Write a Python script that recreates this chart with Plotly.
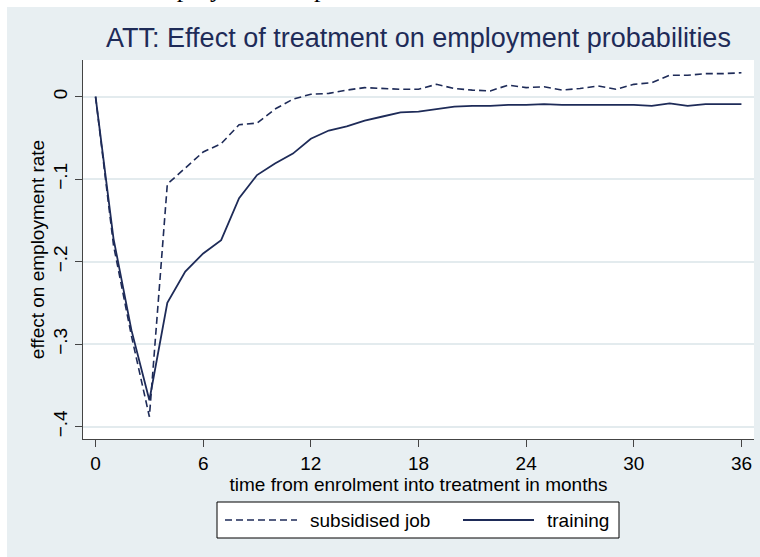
import plotly.graph_objects as go

# months since enrolment
months = list(range(37))

# effect on employment rate
subsidised_job = [0.000, -0.180, -0.290, -0.388, -0.106, -0.087, -0.067, -0.057, -0.034, -0.032,
                  -0.015, -0.003, 0.003, 0.004, 0.008, 0.011, 0.010, 0.009, 0.009, 0.015,
                  0.010, 0.008, 0.007, 0.014, 0.011, 0.012, 0.008, 0.010, 0.013, 0.009,
                  0.015, 0.017, 0.026, 0.026, 0.028, 0.028, 0.029]
training = [0.000, -0.172, -0.283, -0.368, -0.250, -0.212, -0.190, -0.174, -0.123, -0.095,
            -0.081, -0.069, -0.051, -0.041, -0.036, -0.029, -0.024, -0.019, -0.018, -0.015,
            -0.012, -0.011, -0.011, -0.010, -0.010, -0.009, -0.010, -0.010, -0.010, -0.010,
            -0.010, -0.011, -0.008, -0.011, -0.009, -0.009, -0.009]

x_ticks = [0, 6, 12, 18, 24, 30, 36]
y_ticks = [0, -0.1, -0.2, -0.3, -0.4]
y_ticktext = ["0", "\u2212.1", "\u2212.2", "\u2212.3", "\u2212.4"]

series_names = ["subsidised job", "training"]

FONT = "Liberation Sans, Arial, sans-serif"
NAVY = "#1e2b58"
BG = "#e8eff2"
GRID = "#e3ebee"
AXIS = "#444444"

W, H = 760, 557
L, R, T, B = 83, 6, 60, 118
pw, ph = W - L - R, H - T - B


def px(x):
    # pixel column -> paper x
    return (x - L) / pw


def py(y):
    # pixel row -> paper y
    return (H - B - y) / ph


fig = go.Figure()
fig.add_trace(go.Scatter(x=months, y=subsidised_job, mode="lines", name=series_names[0],
                         line=dict(color=NAVY, width=1.6, dash="7px,4px"), showlegend=False))
fig.add_trace(go.Scatter(x=months, y=training, mode="lines", name=series_names[1],
                         line=dict(color=NAVY, width=1.8), showlegend=False))

shapes = [
    # white strips above and left of the graph region (page around the figure)
    dict(type="rect", xref="paper", yref="paper", x0=px(-5), x1=px(W + 5), y0=py(7), y1=py(-5),
         fillcolor="white", line=dict(width=0), layer="above"),
    dict(type="rect", xref="paper", yref="paper", x0=px(-5), x1=px(7), y0=py(H + 5), y1=py(-5),
         fillcolor="white", line=dict(width=0), layer="above"),
    # legend box
    dict(type="rect", xref="paper", yref="paper", x0=px(217), x1=px(619), y0=py(538), y1=py(502),
         fillcolor="white", line=dict(color="black", width=1), layer="above"),
    dict(type="line", xref="paper", yref="paper", x0=px(225), x1=px(297), y0=py(520), y1=py(520),
         line=dict(color=NAVY, width=1.6, dash="7px,4px"), layer="above"),
    dict(type="line", xref="paper", yref="paper", x0=px(463), x1=px(534), y0=py(520), y1=py(520),
         line=dict(color=NAVY, width=1.8), layer="above"),
]

annotations = [
    dict(text=series_names[0], xref="paper", yref="paper", x=px(308), y=py(520),
         xanchor="left", yanchor="middle", showarrow=False,
         font=dict(family=FONT, size=19, color="black")),
    dict(text=series_names[1], xref="paper", yref="paper", x=px(545), y=py(520),
         xanchor="left", yanchor="middle", showarrow=False,
         font=dict(family=FONT, size=19, color="black")),
    # cropped line of document text above the figure (only descenders show)
    dict(text="employment on p", xref="paper", yref="paper", x=px(143), y=py(4.5),
         xanchor="left", yanchor="bottom", showarrow=False,
         font=dict(family="Liberation Serif, Times New Roman, serif", size=26, color="black")),
]

fig.update_layout(
    width=W, height=H,
    margin=dict(l=L, r=R, t=T, b=B),
    paper_bgcolor=BG,
    plot_bgcolor="white",
    font=dict(family=FONT, size=19, color="black"),
    title=dict(text="ATT: Effect of treatment on employment probabilities",
               x=0.5, xref="paper", xanchor="center",
               y=1 - 38 / H, yref="container", yanchor="middle",
               font=dict(family=FONT, size=27, color=NAVY)),
    shapes=shapes,
    annotations=annotations,
    showlegend=False,
)

fig.update_xaxes(
    range=[-0.7, 36.7], tickmode="array", tickvals=x_ticks,
    showline=True, linecolor=AXIS, linewidth=1.2,
    ticks="outside", ticklen=7, tickcolor=AXIS, tickwidth=1.2,
    showgrid=False, zeroline=False,
    tickfont=dict(size=19),
    title=dict(text="time from enrolment into treatment in months", standoff=4, font=dict(size=19)),
)
fig.update_yaxes(
    range=[-0.415, 0.0445], tickmode="array", tickvals=y_ticks, ticktext=y_ticktext,
    tickangle=-90,
    showline=True, linecolor=AXIS, linewidth=1.2,
    ticks="outside", ticklen=7, tickcolor=AXIS, tickwidth=1.2,
    showgrid=True, gridcolor=GRID, gridwidth=1.5, zeroline=False,
    tickfont=dict(size=19),
    title=dict(text="effect on employment rate", standoff=0, font=dict(size=19)),
)

fig.write_html("out.html", config={"displayModeBar": False},
               post_script="document.body.style.margin='0';document.body.style.overflow='hidden';")
